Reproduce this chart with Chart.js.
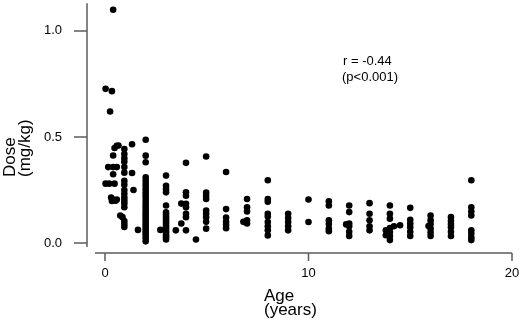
<!DOCTYPE html>
<html>
<head>
<meta charset="utf-8">
<script src="https://cdn.jsdelivr.net/npm/chart.js@4/dist/chart.umd.min.js"></script>
<style>
  html, body { margin: 0; padding: 0; background: #fff; }
  canvas { display: block; }
</style>
</head>
<body>
<canvas id="c" width="520" height="324"></canvas>
<script>
// ---- Data (age in years, dose in mg/kg) ----
const colAges = [0.03, 0.16, 0.21, 0.25, 0.30, 0.34, 0.40, 0.47, 0.52, 0.58, 0.66, 0.75, 0.86, 0.95,
  1.33, 1.40, 1.62, 2.0, 2.72, 3.0, 3.48, 3.75, 3.98, 4.47, 4.97, 5.95, 6.8, 6.98, 8.0, 9.0, 10.0,
  11.0, 11.85, 12.0, 13.0, 13.8, 14.0, 14.2, 14.5, 15.0, 15.9, 16.0, 17.0, 18.0];
const colDoses = [
  [0.727, 0.28],
  [0.358],
  [0.28],
  [0.62],
  [0.215],
  [0.716, 0.198],
  [1.10, 0.413, 0.358, 0.324, 0.205],
  [0.448, 0.28],
  [0.20],
  [0.459, 0.358, 0.205],
  [0.46],
  [0.13],
  [0.122],
  [0.443, 0.42, 0.40, 0.383, 0.358, 0.332, 0.293, 0.275, 0.25, 0.232, 0.215, 0.2, 0.186, 0.169, 0.104, 0.09, 0.076],
  [0.466, 0.33],
  [0.25],
  [0.062],
  [0.487, 0.412, 0.381, 0.31, 0.295, 0.28, 0.266, 0.252, 0.238, 0.225, 0.212, 0.198, 0.185, 0.172, 0.16,
   0.148, 0.136, 0.124, 0.112, 0.1, 0.089, 0.078, 0.067, 0.056, 0.045, 0.034, 0.023, 0.008],
  [0.062],
  [0.318, 0.27, 0.254, 0.239, 0.177, 0.145, 0.133, 0.122, 0.11, 0.1, 0.09, 0.079, 0.068, 0.057, 0.047, 0.037, 0.027, 0.017],
  [0.06],
  [0.186, 0.092],
  [0.378, 0.239, 0.223, 0.185, 0.169, 0.138, 0.122, 0.06],
  [0.017],
  [0.408, 0.238, 0.223, 0.208, 0.153, 0.138, 0.122, 0.1, 0.068],
  [0.335, 0.16, 0.12, 0.1, 0.085, 0.07],
  [0.1],
  [0.208, 0.169, 0.149, 0.107, 0.092],
  [0.296, 0.208, 0.195, 0.138, 0.125, 0.099, 0.079, 0.06, 0.036],
  [0.138, 0.118, 0.099, 0.079, 0.06],
  [0.205, 0.099],
  [0.197, 0.177, 0.107, 0.09, 0.068, 0.056],
  [0.088],
  [0.177, 0.146, 0.092, 0.079, 0.053, 0.033],
  [0.188, 0.138, 0.107, 0.079, 0.06],
  [0.06, 0.037],
  [0.177, 0.138, 0.115, 0.071, 0.052, 0.033, 0.014],
  [0.079],
  [0.084],
  [0.166, 0.11, 0.092, 0.075, 0.053, 0.033],
  [0.08],
  [0.13, 0.107, 0.09, 0.068, 0.05, 0.033],
  [0.122, 0.105, 0.09, 0.075, 0.053, 0.033],
  [0.296, 0.169, 0.149, 0.13, 0.06, 0.045, 0.027, 0.014]
];
const xTicks = [0, 10, 20];
const xTickLabels = ['0', '10', '20'];
const yTicks = [0, 0.5, 1.0];
const yTickLabels = ['0.0', '0.5', '1.0'];
const xTitle = ['Age', '(years)'];
const yTitle = ['Dose', '(mg/kg)'];
const annotation = ['r = -0.44', '(p<0.001)'];

const points = [];
colAges.forEach((a, i) => colDoses[i].forEach(d => points.push({ x: a, y: d })));

const FONT = '"Liberation Sans", Arial, sans-serif';
const AXIS_COLOR = '#5c5c5c';

const decorPlugin = {
  id: 'decor',
  afterDraw(chart) {
    const ctx = chart.ctx;
    const ca = chart.chartArea;
    const xs = chart.scales.x, ys = chart.scales.y;
    ctx.save();
    ctx.strokeStyle = AXIS_COLOR;
    ctx.lineWidth = 1.5;
    ctx.beginPath();
    // detached y axis
    const yx = ca.left - 8;
    ctx.moveTo(yx, ca.top);
    ctx.lineTo(yx, ca.bottom);
    yTicks.forEach(v => {
      const p = ys.getPixelForValue(v);
      ctx.moveTo(yx - 13, p);
      ctx.lineTo(yx, p);
    });
    // detached x axis
    const xy = ca.bottom + 6;
    ctx.moveTo(ca.left, xy);
    ctx.lineTo(ca.right, xy);
    xTicks.forEach(v => {
      const p = xs.getPixelForValue(v);
      ctx.moveTo(p, xy);
      ctx.lineTo(p, xy + 8);
    });
    ctx.stroke();

    ctx.fillStyle = '#000';
    // x title
    ctx.font = '17px ' + FONT;
    ctx.textAlign = 'left';
    ctx.textBaseline = 'alphabetic';
    ctx.fillText(xTitle[0], 264, 300.5);
    ctx.fillText(xTitle[1], 264, 315);
    // y title (rotated)
    ctx.save();
    ctx.translate(14.5, 177);
    ctx.rotate(-Math.PI / 2);
    ctx.fillText(yTitle[0], 0, 0);
    ctx.restore();
    ctx.save();
    ctx.translate(30, 177);
    ctx.rotate(-Math.PI / 2);
    ctx.fillText(yTitle[1], 0, 0);
    ctx.restore();
    // annotation
    ctx.font = '13px ' + FONT;
    ctx.fillText(annotation[0], 343, 65);
    ctx.fillText(annotation[1], 342, 80.5);
    ctx.restore();
  }
};

new Chart(document.getElementById('c'), {
  type: 'scatter',
  data: {
    datasets: [{
      data: points,
      backgroundColor: '#000',
      borderWidth: 0,
      pointRadius: 3.3,
      pointHoverRadius: 3.3,
      clip: false
    }]
  },
  options: {
    responsive: false,
    animation: false,
    events: [],
    layout: { padding: { left: 0, right: 8, top: 0, bottom: 0 } },
    plugins: { legend: { display: false }, tooltip: { enabled: false } },
    scales: {
      x: {
        type: 'linear',
        min: -0.4914,
        max: 20,
        grid: { display: false, drawTicks: false },
        border: { display: false },
        afterBuildTicks(s) { s.ticks = xTicks.map(v => ({ value: v })); },
        afterFit(s) { s.height = 77; s.paddingLeft = 0; s.paddingRight = 0; },
        ticks: {
          padding: 19,
          color: '#000',
          font: { family: FONT, size: 13 },
          maxRotation: 0,
          autoSkip: false,
          callback: (v) => xTickLabels[xTicks.indexOf(v)]
        }
      },
      y: {
        type: 'linear',
        min: -0.0186,
        max: 1.1302,
        grid: { display: false, drawTicks: false },
        border: { display: false },
        afterBuildTicks(s) { s.ticks = yTicks.map(v => ({ value: v })); },
        afterFit(s) { s.width = 95; s.paddingTop = 0; s.paddingBottom = 0; },
        ticks: {
          padding: 33,
          color: '#000',
          font: { family: FONT, size: 13 },
          autoSkip: false,
          callback: (v) => yTickLabels[yTicks.indexOf(v)]
        }
      }
    }
  },
  plugins: [decorPlugin]
});
</script>
</body>
</html>
